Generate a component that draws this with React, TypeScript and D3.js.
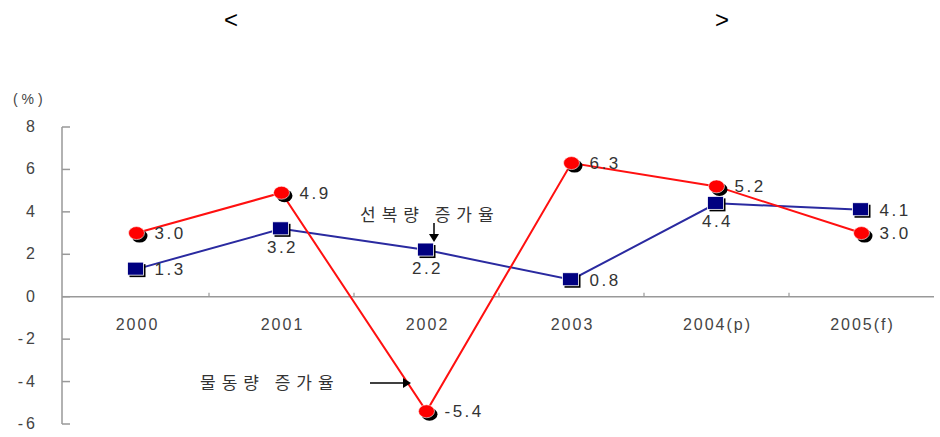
import React from "react";
import * as d3 from "d3";

const categories = ["2000", "2001", "2002", "2003", "2004(p)", "2005(f)"];
const fleetGrowth = [1.3, 3.2, 2.2, 0.8, 4.4, 4.1]; // 선복량 증가율
const cargoGrowth = [3.0, 4.9, -5.4, 6.3, 5.2, 3.0]; // 물동량 증가율
const fleetLabelPos = ["right", "below", "below", "right", "below", "right"];
const yTicks = [8, 6, 4, 2, 0, -2, -4, -6];

const W = 940;
const H = 437;

export default function App() {
  const x = d3.scaleBand<string>().domain(categories).range([64, 934]);
  const y = d3.scaleLinear().domain([-6, 8]).range([424, 127]);
  const cx = (c: string) => (x(c) as number) + x.bandwidth() / 2;
  const line = d3
    .line<number>()
    .x((_, i) => cx(categories[i]))
    .y((d) => y(d));
  const gray = "#444";
  const font = "Arial, 'Liberation Sans', sans-serif";
  const kfont = "'Noto Sans CJK KR', sans-serif";

  return (
    <svg
      width={W}
      height={H}
      style={{ position: "absolute", left: 0, top: 0, background: "#fff" }}
      fontFamily={font}
    >
      <text x={231} y={28} fontSize={24} textAnchor="middle" fill="#000">&lt;</text>
      <text x={722} y={28} fontSize={24} textAnchor="middle" fill="#000">&gt;</text>

      <text x={13} y={104} fontSize={14} fill={gray}>( % )</text>

      {/* y axis */}
      <line x1={62} x2={62} y1={y(8)} y2={y(-6)} stroke="#999" strokeWidth={1.5} />
      {yTicks.map((t) => (
        <g key={t}>
          <line x1={62} x2={70} y1={y(t)} y2={y(t)} stroke="#999" strokeWidth={1.5} />
          <text x={38} y={y(t) + 5} fontSize={16} textAnchor="end" fill={gray} letterSpacing={3}>
            {t}
          </text>
        </g>
      ))}

      {/* x axis */}
      <line x1={62} x2={934} y1={y(0)} y2={y(0)} stroke="#999" strokeWidth={1.5} />
      {categories.slice(1).map((c) => (
        <line key={c} x1={x(c) as number} x2={x(c) as number} y1={y(0)} y2={y(0) - 4} stroke="#999" strokeWidth={1.2} />
      ))}
      {categories.map((c) => (
        <text key={c} x={cx(c) + 1} y={y(0) + 33} fontSize={16} textAnchor="middle" fill={gray} letterSpacing={2}>
          {c}
        </text>
      ))}

      {/* lines */}
      <path d={line(fleetGrowth) || ""} fill="none" stroke="#2a2aa0" strokeWidth={2} />
      <path d={line(cargoGrowth) || ""} fill="none" stroke="#ff1010" strokeWidth={2} />

      {/* blue markers */}
      {fleetGrowth.map((v, i) => {
        const px = cx(categories[i]);
        const py = y(v);
        return (
          <g key={"b" + i}>
            <rect x={px - 7} y={py - 5} width={16} height={13} fill="#000" />
            <rect x={px - 9} y={py - 7} width={16} height={13} fill="#000080" stroke="#fff" strokeWidth={0.8} />
          </g>
        );
      })}
      {/* red markers */}
      {cargoGrowth.map((v, i) => {
        const px = cx(categories[i]);
        const py = y(v);
        return (
          <g key={"r" + i}>
            <ellipse cx={px + 3} cy={py + 3} rx={8} ry={6.5} fill="#000" />
            <ellipse cx={px} cy={py} rx={8} ry={6.5} fill="#ff0000" stroke="#fff" strokeWidth={0.6} />
          </g>
        );
      })}

      {/* value labels */}
      {fleetGrowth.map((v, i) => {
        const px = cx(categories[i]);
        const py = y(v);
        const below = fleetLabelPos[i] === "below";
        return (
          <text
            key={"bl" + i}
            x={below ? px + 1 : px + 18}
            y={below ? py + 24 : py + 6}
            fontSize={17}
            textAnchor={below ? "middle" : "start"}
            fill="#333"
            letterSpacing={2.5}
          >
            {v.toFixed(1)}
          </text>
        );
      })}
      {cargoGrowth.map((v, i) => {
        const px = cx(categories[i]);
        const py = y(v);
        return (
          <text key={"rl" + i} x={px + 18} y={py + 6} fontSize={17} fill="#333" letterSpacing={2.5}>
            {v.toFixed(1)}
          </text>
        );
      })}

      {/* annotations */}
      <text x={360} y={221} fontSize={17} fill="#333" fontFamily={kfont} letterSpacing={6}>
        선복량 증가율
      </text>
      <line x1={434} x2={434} y1={223} y2={238} stroke="#000" strokeWidth={1.5} />
      <path d="M429,234 L434,242 L439,234 Z" fill="#000" />

      <text x={200} y={389} fontSize={17} fill="#333" fontFamily={kfont} letterSpacing={6}>
        물동량 증가율
      </text>
      <line x1={370} x2={406} y1={383} y2={383} stroke="#000" strokeWidth={1.5} />
      <path d="M403,378 L411,383 L403,388 Z" fill="#000" />
    </svg>
  );
}
